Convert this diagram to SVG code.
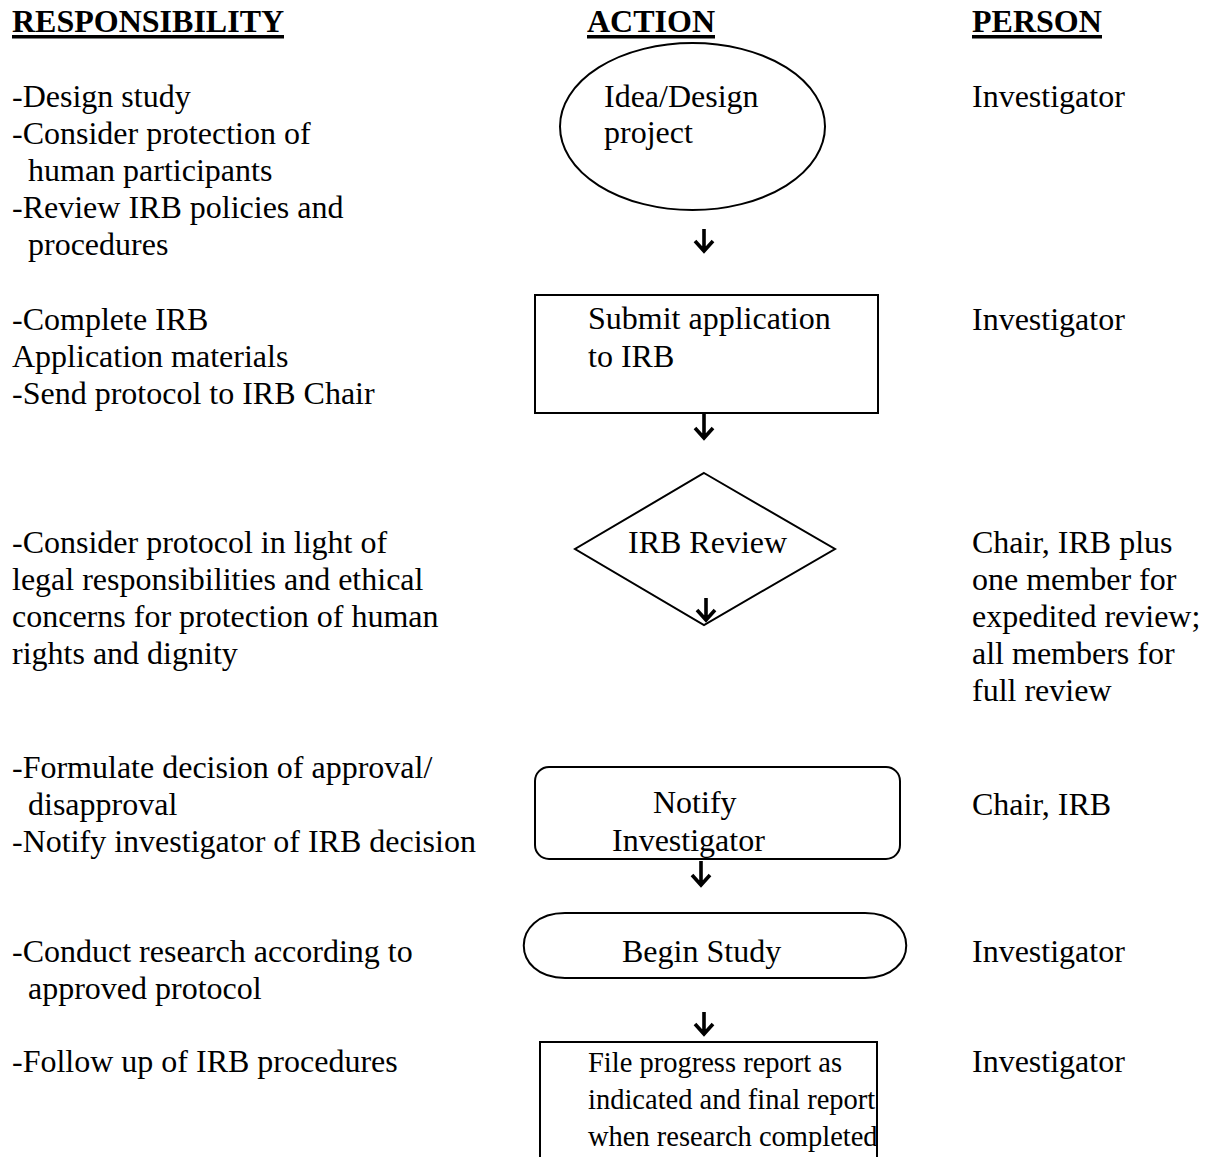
<svg xmlns="http://www.w3.org/2000/svg" width="1207" height="1157" viewBox="0 0 1207 1157">
<style>
text{font-family:"Liberation Serif","Times New Roman",serif;font-size:32px;fill:#000}
.h{font-weight:bold}
.sm{font-size:28.5px}
.shape{fill:none;stroke:#000;stroke-width:2}
.arr{fill:none;stroke:#000;stroke-width:3.6;stroke-linecap:butt;stroke-linejoin:miter}
</style>
<rect width="1207" height="1157" fill="#fff"/>
<g id="headers">
<text class="h" x="12" y="32">RESPONSIBILITY</text>
<rect x="12" y="35" width="272" height="3.5" fill="#000"/>
<text class="h" x="587" y="32">ACTION</text>
<rect x="587" y="35" width="128" height="3.5" fill="#000"/>
<text class="h" x="972" y="32">PERSON</text>
<rect x="972" y="35" width="130" height="3.5" fill="#000"/>
</g>
<g id="responsibility">
<text x="12" y="107">-Design study</text>
<text x="12" y="144">-Consider protection of</text>
<text x="12" y="181" xml:space="preserve">  human participants</text>
<text x="12" y="218">-Review IRB policies and</text>
<text x="12" y="255" xml:space="preserve">  procedures</text>
<text x="12" y="330">-Complete IRB</text>
<text x="12" y="367">Application materials</text>
<text x="12" y="404">-Send protocol to IRB Chair</text>
<text x="12" y="553">-Consider protocol in light of</text>
<text x="12" y="590">legal responsibilities and ethical</text>
<text x="12" y="627">concerns for protection of human</text>
<text x="12" y="664">rights and dignity</text>
<text x="12" y="778">-Formulate decision of approval/</text>
<text x="12" y="815" xml:space="preserve">  disapproval</text>
<text x="12" y="852">-Notify investigator of IRB decision</text>
<text x="12" y="962">-Conduct research according to</text>
<text x="12" y="999" xml:space="preserve">  approved protocol</text>
<text x="12" y="1072">-Follow up of IRB procedures</text>
</g>
<g id="person">
<text x="972" y="107">Investigator</text>
<text x="972" y="330">Investigator</text>
<text x="972" y="553">Chair, IRB plus</text>
<text x="972" y="590">one member for</text>
<text x="972" y="627">expedited review;</text>
<text x="972" y="664">all members for</text>
<text x="972" y="701">full review</text>
<text x="972" y="815">Chair, IRB</text>
<text x="972" y="962">Investigator</text>
<text x="972" y="1072">Investigator</text>
</g>
<g id="node-idea">
<ellipse class="shape" cx="692.5" cy="126.5" rx="132.5" ry="83.5"/>
<text x="604" y="107">Idea/Design</text>
<text x="604" y="143">project</text>
</g>
<g id="node-submit">
<rect class="shape" x="535" y="295" width="343" height="118"/>
<text x="588" y="329">Submit application</text>
<text x="588" y="367">to IRB</text>
</g>
<g id="node-review">
<polygon class="shape" points="704,473 835,549 704,625 575,549"/>
<text x="628" y="553">IRB Review</text>
</g>
<g id="node-notify">
<rect class="shape" x="535" y="767" width="365" height="92" rx="14" ry="14"/>
<text x="653" y="813">Notify</text>
<text x="612" y="851">Investigator</text>
</g>
<g id="node-begin">
<path class="shape" d="M565,913 L865,913 C920,913 920,978 865,978 L565,978 C510,978 510,913 565,913 Z"/>
<text x="622" y="962">Begin Study</text>
</g>
<g id="node-file">
<path class="shape" d="M540,1160 L540,1042 L877,1042 L877,1160"/>
<text class="sm" x="588" y="1072">File progress report as</text>
<text class="sm" x="588" y="1109">indicated and final report</text>
<text class="sm" x="588" y="1146">when research completed</text>
</g>
<g id="connectors">
<path class="arr" d="M704,229 V251 M695,241 L704,251 L713,241"/>
<path class="arr" d="M704,414 V438 M695,428 L704,438 L713,428"/>
<path class="arr" d="M706,598 V620 M697,610 L706,620 L715,610"/>
<path class="arr" d="M701,861 V885 M692,875 L701,885 L710,875"/>
<path class="arr" d="M704,1012 V1034 M695,1024 L704,1034 L713,1024"/>
</g>
</svg>
